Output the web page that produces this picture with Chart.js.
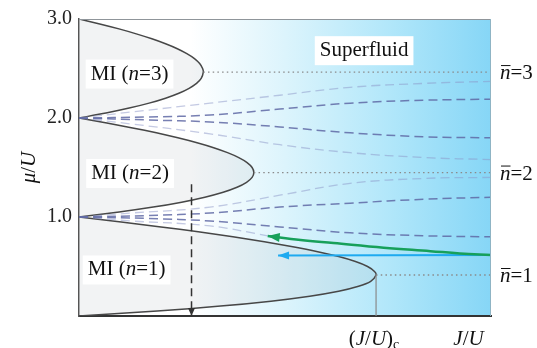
<!DOCTYPE html>
<html><head><meta charset="utf-8">
<script src="https://cdn.jsdelivr.net/npm/chart.js@4/dist/chart.umd.min.js"></script>
<style>html,body{margin:0;padding:0;background:#fff}#wrap{width:537px;height:348px;position:relative}</style>
</head><body><div id="wrap"><canvas id="c"></canvas></div>
<script>
// ---- data: [J/U, mu/U] pairs ----
const lobe1 = [[0,0],[0.0452,0.05],[0.0818,0.10],[0.1109,0.15],[0.1333,0.20],[0.150,0.25],[0.1615,0.30],[0.1685,0.35],[0.1716,0.414],[0.1707,0.45],[0.1667,0.50],[0.1597,0.55],[0.150,0.60],[0.1379,0.65],[0.1235,0.70],[0.1071,0.75],[0.0889,0.80],[0.0689,0.85],[0.0474,0.90],[0.0244,0.95],[0,1.0]];
const lobe2 = [[0,1.0],[0.0232,1.05],[0.0429,1.10],[0.0593,1.15],[0.0727,1.20],[0.0833,1.25],[0.0913,1.30],[0.0968,1.35],[0.1000,1.40],[0.1010,1.449],[0.1000,1.50],[0.0971,1.55],[0.0923,1.60],[0.0858,1.65],[0.0778,1.70],[0.0682,1.75],[0.0571,1.80],[0.0447,1.85],[0.0310,1.90],[0.0161,1.95],[0,2.0]];
const lobe3 = [[0,2.0],[0.0156,2.05],[0.0290,2.10],[0.0405,2.15],[0.0500,2.20],[0.0577,2.25],[0.0636,2.30],[0.0679,2.35],[0.0706,2.40],[0.0718,2.464],[0.0714,2.50],[0.0697,2.55],[0.0667,2.60],[0.0623,2.65],[0.0568,2.70],[0.0500,2.75],[0.0421,2.80],[0.0331,2.85],[0.0231,2.90],[0.0120,2.95],[0,3.0]];

const dens2Faint1 = [[0,2.0],[0.03,2.06],[0.0757,2.15],[0.116,2.23],[0.1566,2.31],[0.20,2.35],[0.238,2.37]];
const dens2Dark1  = [[0,2.0],[0.04,2.01],[0.0757,2.03],[0.116,2.09],[0.1566,2.15],[0.20,2.18],[0.238,2.19]];
const dens2Dark2  = [[0,2.0],[0.04,1.98],[0.0757,1.96],[0.116,1.91],[0.1566,1.85],[0.20,1.81],[0.238,1.80]];
const dens2Faint2 = [[0,2.0],[0.03,1.94],[0.0757,1.84],[0.116,1.73],[0.1566,1.65],[0.20,1.60],[0.238,1.58]];
const dens1Faint1 = [[0,1.0],[0.03,1.04],[0.0757,1.10],[0.116,1.22],[0.1566,1.34],[0.20,1.39],[0.238,1.40]];
const dens1Dark1  = [[0,1.0],[0.04,1.015],[0.0757,1.04],[0.116,1.10],[0.1566,1.14],[0.20,1.18],[0.238,1.20]];
const dens1Dark2  = [[0,1.0],[0.04,0.985],[0.0757,0.96],[0.116,0.90],[0.1566,0.84],[0.20,0.81],[0.238,0.80]];
const dens1Faint2 = [[0,1.0],[0.03,0.96],[0.0757,0.91],[0.109,0.81]];

const greenPath = [[0.238,0.615],[0.220,0.632],[0.203,0.655],[0.176,0.690],[0.147,0.737],[0.128,0.768],[0.109,0.808]];
const bluePath  = [[0.238,0.615],[0.115,0.610]];
const quenchPath = [[0.065,1.33],[0.065,0.0]];

const tipMu = [2.464, 1.449, 0.414];
const tipJ  = [0.0718, 0.1010, 0.1716];
const tipLabels = ['3','2','1'];
const critLine = [[0.1716,0.414],[0.1716,0]];

const yTicks = [1, 2, 3];
const xTickValues = [0.1716, 0.225];
const xMax = 0.238;
const yMax = 3.0;

// ---- helpers ----
const serif = "'Liberation Serif','Times New Roman',serif";
const pts = a => a.map(p => ({x: p[0], y: p[1]}));
function fontOf(s){ return (s.it ? 'italic ' : '') + s.size + 'px ' + serif; }
function drawRich(ctx, segs, x, y, align){
  let w = 0;
  segs.forEach(s => { ctx.font = fontOf(s); s.w = ctx.measureText(s.t).width; w += s.w; });
  let cx = align === 'center' ? x - w/2 : (align === 'right' ? x - w : x);
  ctx.textAlign = 'left';
  segs.forEach(s => {
    ctx.font = fontOf(s);
    ctx.fillText(s.t, cx, y + (s.dy || 0));
    if (s.over){ ctx.save(); ctx.lineWidth = 1; ctx.strokeStyle = ctx.fillStyle; ctx.beginPath(); ctx.moveTo(cx+1, y - 13.5); ctx.lineTo(cx + s.w, y - 13.5); ctx.stroke(); ctx.restore(); }
    cx += s.w;
  });
  return w;
}

const boxLabels = [
  {J:0.0292, mu:2.444, segs:[{t:'MI (',size:21},{t:'n',it:true,size:21},{t:'=3)',size:21}], box:true},
  {J:0.0295, mu:1.440, segs:[{t:'MI (',size:21},{t:'n',it:true,size:21},{t:'=2)',size:21}], box:true},
  {J:0.0275, mu:0.465, segs:[{t:'MI (',size:21},{t:'n',it:true,size:21},{t:'=1)',size:21}], box:true},
  {J:0.1647, mu:2.680, segs:[{t:'Superfluid',size:21}], box:true}
];

const bgPlugin = {
  id: 'bg',
  beforeDraw(chart){
    const {ctx, chartArea: a} = chart;
    const g = ctx.createLinearGradient(a.left, 0, a.right, 0);
    g.addColorStop(0, '#ffffff');
    g.addColorStop(0.27, '#ffffff');
    g.addColorStop(0.5, '#dcf4fc');
    g.addColorStop(0.75, '#b2e7fa');
    g.addColorStop(1, '#86d6f6');
    ctx.save();
    ctx.fillStyle = g;
    ctx.fillRect(a.left, a.top, a.right - a.left, a.bottom - a.top);
    ctx.restore();
  },
  afterDraw(chart){
    const {ctx, chartArea: a, scales} = chart;
    ctx.save();
    // frame top/right
    ctx.lineWidth = 1;
    ctx.strokeStyle = '#8f959a';
    ctx.beginPath(); ctx.moveTo(a.left, a.top + 0.5); ctx.lineTo(a.right, a.top + 0.5); ctx.stroke();
    ctx.strokeStyle = '#8fb4c4';
    ctx.beginPath(); ctx.moveTo(a.right - 0.5, a.top); ctx.lineTo(a.right - 0.5, a.bottom); ctx.stroke();
    ctx.fillStyle = '#111';
    ctx.textBaseline = 'middle';
    // boxed labels
    boxLabels.forEach(l => {
      const x = scales.x.getPixelForValue(l.J), y = scales.y.getPixelForValue(l.mu);
      let w = 0;
      l.segs.forEach(s => { ctx.font = fontOf(s); w += ctx.measureText(s.t).width; });
      ctx.fillStyle = '#ffffff';
      ctx.fillRect(x - w/2 - 5, y - 14.5, w + 10, 29);
      ctx.fillStyle = '#111';
      drawRich(ctx, l.segs, x, y, 'center');
    });
    // n-bar labels on right
    ctx.textBaseline = 'alphabetic';
    tipMu.forEach((m, i) => {
      const y = scales.y.getPixelForValue(m);
      drawRich(ctx, [{t:'n',it:true,size:21,over:true},{t:'='+tipLabels[i],size:21}], a.right + 9, y + 7, 'left');
    });
    // x labels
    const xb = a.bottom + 29;
    const xc = scales.x.getPixelForValue(xTickValues[0]);
    drawRich(ctx, [{t:'(',size:21},{t:'J',it:true,size:21},{t:'/',size:21},{t:'U',it:true,size:21},{t:')',size:21},{t:'c',size:14,dy:4}], xc - 2, xb, 'center');
    const xj = scales.x.getPixelForValue(xTickValues[1]);
    drawRich(ctx, [{t:'J',it:true,size:21},{t:'/',size:21},{t:'U',it:true,size:21}], xj, xb, 'center');
    // y title
    ctx.save();
    ctx.translate(28, (a.top + a.bottom)/2);
    ctx.rotate(-Math.PI/2);
    drawRich(ctx, [{t:'\u03bc',it:true,size:21},{t:'/',size:21},{t:'U',it:true,size:21}], 0, 7, 'center');
    ctx.restore();
    ctx.restore();
  }
};

const arrowPlugin = {
  id: 'arrows',
  afterDatasetsDraw(chart){
    const ctx = chart.ctx;
    chart.data.datasets.forEach((ds, i) => {
      if (!ds.arrowHead) return;
      const d = chart.getDatasetMeta(i).data;
      const tip = d[d.length - 1], prev = d[d.length - 2];
      const ang = Math.atan2(tip.y - prev.y, tip.x - prev.x);
      const L = ds.arrowHead[0], W = ds.arrowHead[1];
      ctx.save();
      ctx.translate(tip.x, tip.y); ctx.rotate(ang);
      ctx.fillStyle = ds.borderColor;
      ctx.beginPath(); ctx.moveTo(0, 0); ctx.lineTo(-L, -W/2); ctx.lineTo(-L, W/2); ctx.closePath(); ctx.fill();
      ctx.restore();
    });
  }
};

const lobeStyle = {borderColor:'#474747', borderWidth:1.5, backgroundColor:'rgba(165,172,178,0.15)', fill:'shape', tension:0.25, order:10};
const faint = {borderColor:'rgba(140,150,200,0.5)', borderWidth:1.3, borderDash:[9,5], tension:0.4, order:6};
const dark  = {borderColor:'rgba(95,105,165,0.85)', borderWidth:1.5, borderDash:[9,5], tension:0.4, order:5};
const dotted = {borderColor:'#8a8a8a', borderWidth:1.3, borderDash:[1.5,3.2], order:4};

const datasets = [
  Object.assign({data: pts(lobe1)}, lobeStyle),
  Object.assign({data: pts(lobe2)}, lobeStyle),
  Object.assign({data: pts(lobe3)}, lobeStyle),
  Object.assign({data: pts(dens2Faint1)}, faint),
  Object.assign({data: pts(dens2Dark1)}, dark),
  Object.assign({data: pts(dens2Dark2)}, dark),
  Object.assign({data: pts(dens2Faint2)}, faint),
  Object.assign({data: pts(dens1Faint1)}, faint),
  Object.assign({data: pts(dens1Dark1)}, dark),
  Object.assign({data: pts(dens1Dark2)}, dark),
  Object.assign({data: pts(dens1Faint2)}, faint),
];
tipMu.forEach((m, i) => datasets.push(Object.assign({data: [{x: tipJ[i], y: m}, {x: xMax, y: m}]}, dotted)));
datasets.push({data: pts(critLine), borderColor:'#8a8a8a', borderWidth:1.2, order:4});
datasets.push({data: pts(quenchPath), borderColor:'#333333', borderWidth:1.5, borderDash:[8,5], order:2, arrowHead:[8,7]});
datasets.push({data: pts(greenPath), borderColor:'#17a05a', borderWidth:2.5, tension:0.4, order:1, arrowHead:[12,9]});
datasets.push({data: pts(bluePath), borderColor:'#1eaaf0', borderWidth:2, order:1, arrowHead:[11,8]});

new Chart(document.getElementById('c'), {
  type: 'scatter',
  data: {datasets},
  options: {
    responsive: true, maintainAspectRatio: false, animation: false, devicePixelRatio: 1,
    showLine: true,
    elements: {point: {radius: 0, hoverRadius: 0}, line: {fill: false}},
    layout: {padding: {left: 0, right: 46, top: 19, bottom: 0}},
    plugins: {legend: {display: false}, tooltip: {enabled: false}},
    events: [],
    scales: {
      x: {
        type: 'linear', min: 0, max: xMax,
        grid: {display: false, drawTicks: false},
        border: {display: true, color: '#333', width: 2},
        ticks: {display: false},
        afterBuildTicks: s => { s.ticks = xTickValues.map(v => ({value: v})); },
        afterFit: s => { s.height = 32; }
      },
      y: {
        type: 'linear', min: 0, max: yMax,
        grid: {display: false, drawTicks: false},
        border: {display: true, color: '#555', width: 1.5},
        afterBuildTicks: s => { s.ticks = yTicks.map(v => ({value: v})); },
        ticks: {padding: 7, color: '#222', font: {family: serif, size: 20}, callback: v => v.toFixed(1)},
        afterFit: s => { s.width = 79; }
      }
    }
  },
  plugins: [bgPlugin, arrowPlugin]
});
</script>
</body></html>
